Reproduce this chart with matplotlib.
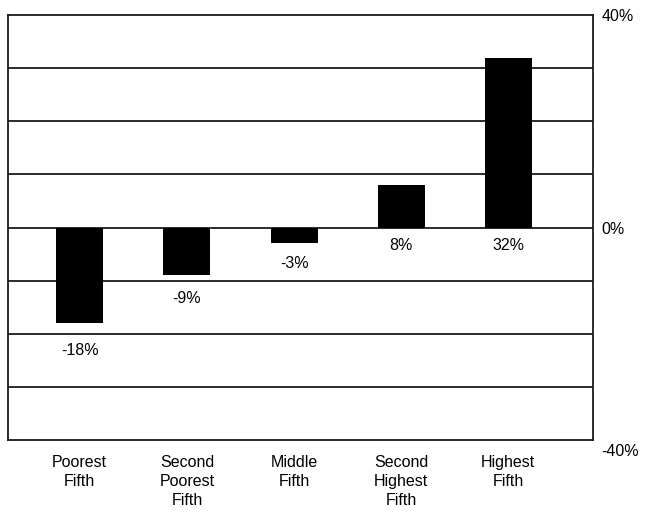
import matplotlib
matplotlib.use("Agg")
import matplotlib.pyplot as plt
import matplotlib.transforms as mtransforms

plt.rcParams["font.family"] = ["Liberation Sans", "DejaVu Sans"]

categories = ["Poorest\nFifth", "Second\nPoorest\nFifth", "Middle\nFifth",
              "Second\nHighest\nFifth", "Highest\nFifth"]
changes = [-18, -9, -3, 8, 32]
value_labels = ["-18%", "-9%", "-3%", "8%", "32%"]
tick_values = [40, 0, -40]
tick_labels = ["40%", "0%", "-40%"]
grid_values = [30, 20, 10, 0, -10, -20, -30]

fig = plt.figure(figsize=(6.47, 5.12), dpi=100)
ax = fig.add_axes([8 / 647, 1 - 440 / 512, 585 / 647, 425 / 512])

x = list(range(len(changes)))
ax.bar(x, changes, width=0.44, color="black", zorder=3)

for yv in grid_values:
    ax.axhline(yv, color="#1a1a1a", lw=1.3, zorder=2)

# labels sit a little below the bar end (or below zero for gains)
for xi, v, lab in zip(x, changes, value_labels):
    ax.annotate(lab, (xi, min(v, 0) * 1.1), xytext=(0, -13), textcoords="offset points",
                ha="center", va="center", fontsize=11.5)

ax.set_xlim(-0.67, 4.79)
ax.set_ylim(-40, 40)
ax.set_xticks(x)
ax.set_xticklabels(categories, fontsize=11.5, va="top", linespacing=1.32)
ax.tick_params(axis="x", length=0, pad=11)

ax.yaxis.tick_right()
ax.set_yticks(tick_values)
ax.set_yticklabels(tick_labels, fontsize=11.5)
ax.tick_params(axis="y", length=0, pad=6)
low = ax.get_yticklabels()[-1]
low.set_transform(low.get_transform() + mtransforms.ScaledTranslation(0, -7 / 72, fig.dpi_scale_trans))

for s in ax.spines.values():
    s.set_color("#1a1a1a")
    s.set_linewidth(1.3)

fig.savefig("out.png", dpi=100)
